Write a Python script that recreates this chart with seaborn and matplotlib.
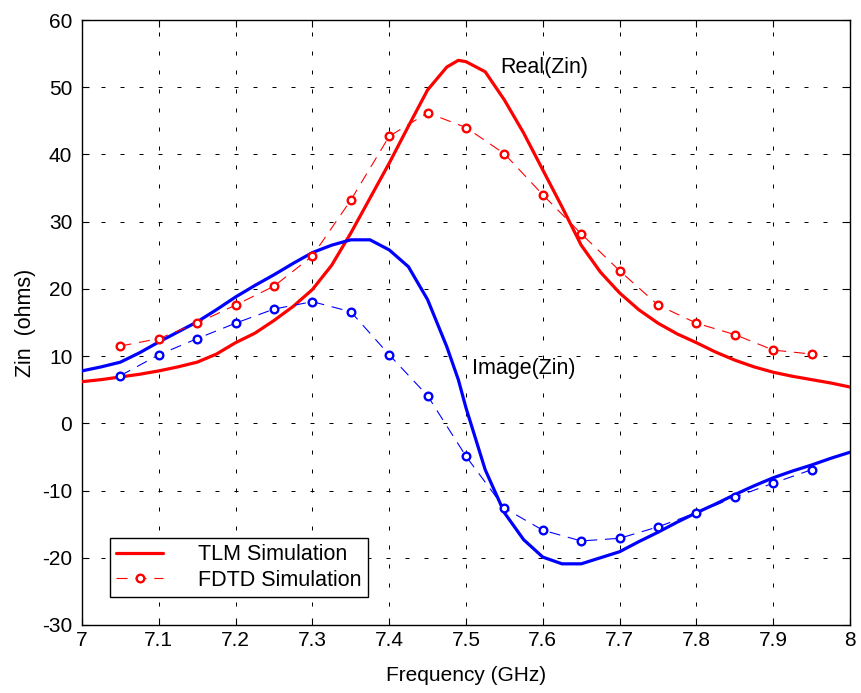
import numpy as np
import pandas as pd
import matplotlib
matplotlib.use("Agg")
import matplotlib.pyplot as plt
import seaborn as sns
from matplotlib.lines import Line2D

# ---- data ----
tlm_freq = [7.00, 7.025, 7.05, 7.075, 7.10, 7.125, 7.15, 7.175, 7.20, 7.225, 7.25, 7.275,
            7.30, 7.325, 7.35, 7.375, 7.40, 7.425, 7.45, 7.475, 7.49, 7.50, 7.525, 7.55,
            7.575, 7.60, 7.625, 7.65, 7.675, 7.70, 7.725, 7.75, 7.775, 7.80, 7.825, 7.85,
            7.875, 7.90, 7.925, 7.95, 7.975, 8.00]
tlm_real = [6.2, 6.5, 6.9, 7.3, 7.8, 8.4, 9.1, 10.3, 12.0, 13.4, 15.3, 17.4,
            19.9, 23.5, 28.3, 33.5, 38.7, 44.2, 49.6, 53.0, 54.0, 53.8, 52.3, 48.1,
            43.2, 37.7, 32.2, 26.5, 22.5, 19.4, 16.9, 14.9, 13.3, 12.0, 10.6, 9.4,
            8.4, 7.6, 7.0, 6.5, 6.0, 5.4]
tlm_imag = [7.8, 8.4, 9.1, 10.5, 12.1, 13.6, 15.1, 16.9, 18.8, 20.5, 22.1, 23.8,
            25.4, 26.5, 27.3, 27.3, 25.8, 23.3, 18.4, 11.4, 6.5, 2.3, -6.9, -13.3,
            -17.3, -19.9, -20.9, -20.9, -20.0, -19.1, -17.6, -16.2, -14.7, -13.3, -12.0, -10.6,
            -9.3, -8.1, -7.1, -6.2, -5.2, -4.3]

fdtd_freq = [7.05, 7.10, 7.15, 7.20, 7.25, 7.30, 7.35, 7.40, 7.45, 7.50,
             7.55, 7.60, 7.65, 7.70, 7.75, 7.80, 7.85, 7.90, 7.95]
fdtd_real = [11.5, 12.6, 14.9, 17.6, 20.4, 24.9, 33.2, 42.7, 46.2, 44.0,
             40.1, 34.0, 28.2, 22.7, 17.6, 14.9, 13.2, 10.9, 10.3]
fdtd_imag = [7.1, 10.2, 12.6, 14.9, 17.0, 18.1, 16.6, 10.2, 4.1, -4.9,
             -12.6, -15.9, -17.5, -17.1, -15.4, -13.3, -11.0, -8.9, -6.9]

x_ticks = [7, 7.1, 7.2, 7.3, 7.4, 7.5, 7.6, 7.7, 7.8, 7.9, 8]
x_tick_labels = ["7", "7.1", "7.2", "7.3", "7.4", "7.5", "7.6", "7.7", "7.8", "7.9", "8"]
y_ticks = [-30, -20, -10, 0, 10, 20, 30, 40, 50, 60]

sns.set_style("white")
plt.rcParams['font.family'] = ['Liberation Sans', 'DejaVu Sans']
plt.rcParams['axes.unicode_minus'] = False
for k in ['text.color', 'axes.labelcolor', 'xtick.color', 'ytick.color']:
    plt.rcParams[k] = 'black'

fig = plt.figure(figsize=(8.61, 6.93), dpi=100)
ax = fig.add_axes([82/861, 68/693, 768/861, 605/693])

tlm = pd.DataFrame({"f": tlm_freq, "re": tlm_real, "im": tlm_imag})
fd = pd.DataFrame({"f": fdtd_freq, "re": fdtd_real, "im": fdtd_imag})

red = "#ff0000"
blue = "#0000ff"
lw_tlm = 2.3
fd_kw = dict(lw=0.8, linestyle=(0, (10, 7)), marker="o", markersize=5.5,
             markeredgewidth=1.7, markerfacecolor="white")

sns.lineplot(data=tlm, x="f", y="re", ax=ax, color=red, lw=lw_tlm, sort=False,
             estimator=None, legend=False, zorder=3)
sns.lineplot(data=tlm, x="f", y="im", ax=ax, color=blue, lw=lw_tlm, sort=False,
             estimator=None, legend=False, zorder=3)
sns.lineplot(data=fd, x="f", y="re", ax=ax, color=red, sort=False,
             estimator=None, legend=False, zorder=4, markeredgecolor=red, **fd_kw)
sns.lineplot(data=fd, x="f", y="im", ax=ax, color=blue, sort=False,
             estimator=None, legend=False, zorder=4, markeredgecolor=blue, **fd_kw)

ax.set_xlim(7, 8)
ax.set_ylim(-30, 60)
ax.set_xticks(x_ticks)
ax.set_xticklabels(x_tick_labels, fontsize=15)
ax.set_yticks(y_ticks)
ax.tick_params(axis='y', labelsize=15, pad=7)
ax.tick_params(axis='x', pad=4)
ax.tick_params(direction='in', length=5, width=0.8, color='black', top=True, right=True,
               bottom=True, left=True)

ax.grid(True, color='black', linewidth=0.72, linestyle=(0, (4, 15)))
for s in ax.spines.values():
    s.set_color('black')
    s.set_linewidth(1.0)
    s.set_visible(True)

ax.set_xlabel("Frequency (GHz)", fontsize=15, labelpad=12)
ax.set_ylabel("Zin  (ohms)", fontsize=15.5, labelpad=4)

ax.text(7.544, 52.9, "Real(Zin)", fontsize=15.5, va='center', ha='left')
ax.text(7.508, 8.1, "Image(Zin)", fontsize=15.5, va='center', ha='left')

handles = [Line2D([], [], color=red, lw=lw_tlm),
           Line2D([], [], color=red, **fd_kw, markeredgecolor=red)]
leg = ax.legend(handles, ["TLM Simulation", "FDTD Simulation"], loc='lower left',
                bbox_to_anchor=(0.036, 0.046), fontsize=15.5, frameon=True, fancybox=False,
                edgecolor='black', framealpha=1, handlelength=2.2, borderpad=0.3,
                labelspacing=0.2, handletextpad=1.6, borderaxespad=0)
leg.get_frame().set_linewidth(1.0)

fig.savefig("out.png", dpi=100)
